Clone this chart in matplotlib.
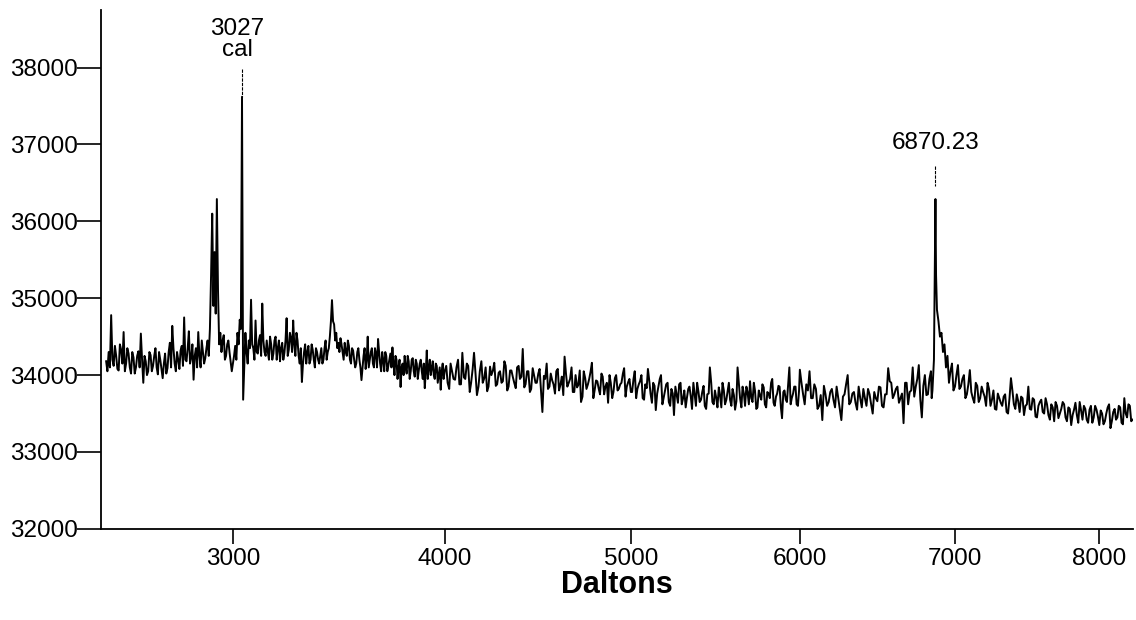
import numpy as np
import matplotlib
matplotlib.use("Agg")
import matplotlib.pyplot as plt

# spectrum: mass (Da) and signal
mass = [
    2470, 2480, 2490, 2500, 2510, 2520, 2530, 2540, 2550, 2560,
    2570, 2580, 2590, 2600, 2610, 2620, 2630, 2640, 2650, 2660,
    2670, 2680, 2690, 2700, 2710, 2720, 2730, 2740, 2750, 2760,
    2770, 2780, 2790, 2800, 2810, 2820, 2830, 2840, 2850, 2860,
    2870, 2880, 2890, 2900, 2905, 2910, 2915, 2920, 2925, 2930,
    2935, 2940, 2950, 2960, 2970, 2980, 2990, 3000, 3010, 3020,
    3030, 3035, 3040, 3045, 3050, 3060, 3070, 3080, 3090, 3100,
    3110, 3120, 3130, 3140, 3150, 3160, 3170, 3180, 3190, 3200,
    3210, 3220, 3230, 3240, 3250, 3260, 3270, 3280, 3290, 3300,
    3310, 3320, 3330, 3340, 3350, 3360, 3370, 3380, 3390, 3400,
    3410, 3420, 3430, 3440, 3450, 3460, 3470, 3480, 3490, 3500,
    3510, 3520, 3530, 3540, 3550, 3560, 3570, 3580, 3590, 3600,
    3610, 3620, 3630, 3640, 3650, 3660, 3670, 3680, 3690, 3700,
    3710, 3720, 3730, 3740, 3750, 3760, 3770, 3780, 3790, 3800,
    3810, 3820, 3830, 3840, 3850, 3860, 3870, 3880, 3890, 3900,
    3910, 3920, 3930, 3940, 3950, 3960, 3970, 3980, 3990,
    4000, 4015, 4030, 4045, 4060, 4075, 4090, 4105, 4120, 4135,
    4150, 4165, 4180, 4195, 4210, 4225, 4240, 4255, 4270, 4285,
    4300, 4315, 4330, 4345, 4360, 4375, 4390, 4405, 4420, 4435,
    4450, 4465, 4480, 4495, 4510, 4525, 4540, 4555, 4570, 4585,
    4600, 4615, 4630, 4645, 4660, 4675, 4690, 4705, 4720, 4735,
    4750, 4765, 4780, 4795, 4810, 4825, 4840, 4855, 4870, 4885,
    4900, 4915, 4930, 4945, 4960, 4975, 4990, 5005, 5020, 5035,
    5050, 5065, 5080, 5095, 5110, 5125, 5140, 5155, 5170, 5185,
    5200, 5215, 5230, 5245, 5260, 5275, 5290, 5305, 5320, 5335,
    5350, 5365, 5380, 5395, 5410, 5425, 5440, 5455, 5470, 5485,
    5500, 5515, 5530, 5545, 5560, 5575, 5590, 5605, 5620, 5635,
    5650, 5665, 5680, 5695, 5710, 5725, 5740, 5755, 5770, 5785,
    5800, 5815, 5830, 5845, 5860, 5875, 5890, 5905, 5920, 5935,
    5950, 5965, 5980, 5995,
    6000, 6020, 6040, 6060, 6080, 6100, 6120, 6140, 6160, 6180,
    6200, 6220, 6240, 6260, 6280, 6300, 6320, 6340, 6360, 6380,
    6400, 6420, 6440, 6460, 6480, 6500, 6520, 6540, 6560, 6580,
    6600, 6620, 6640, 6660, 6680, 6700, 6720, 6740, 6760, 6780,
    6800, 6820, 6840, 6850, 6860, 6866, 6870, 6874, 6880, 6890,
    6900, 6910, 6920, 6930, 6940, 6950, 6960, 6980, 7000, 7020,
    7040, 7060, 7080, 7100, 7120, 7140, 7160, 7180, 7200, 7220,
    7240, 7260, 7280, 7300, 7320, 7340, 7360, 7380, 7400, 7420,
    7440, 7460, 7480, 7500, 7520, 7540, 7560, 7580, 7600, 7620,
    7640, 7660, 7680, 7700, 7720, 7740, 7760, 7780, 7800, 7820,
    7840, 7860, 7880, 7900, 7920, 7940, 7960, 7980, 8000, 8020,
    8040, 8060, 8080, 8100, 8120, 8140, 8160, 8180, 8200, 8220,
    8240,
]

signal = [
    34180, 34300, 34780, 34120, 34250, 34060, 34330, 34560, 34150, 34280,
    34020, 34230, 34100, 34310, 34540, 33900, 34180, 34050, 34260, 34120,
    34350, 34010, 34200, 33960, 34280, 34090, 34420, 34640, 34150, 34300,
    34080, 34380, 34750, 34180, 34570, 34230, 33940, 34350, 34560, 34100,
    34300, 34220, 34450, 34600, 35300, 36100, 34900, 35600, 34800, 36290,
    35100, 34400, 34300, 34520, 34250, 34450, 34180, 34150, 34380, 34550,
    34720, 34600, 37620, 33680, 34100, 34300, 34450, 34980, 34350, 34710,
    34280, 34520, 34930, 34300, 34450, 34200, 34400, 34280, 34500, 34350,
    34180, 34420, 34290, 34740, 34330, 34480, 34710, 34250, 34450, 34150,
    33910, 34300, 34150, 34380, 34200, 34330, 34100, 34300, 34150, 34350,
    34200, 34450, 34300, 34500, 34975, 34660, 34550, 34420, 34480, 34300,
    34420, 34250, 34380, 34150, 34320, 34100, 34300, 34200, 33935, 34250,
    34080, 34500, 34200, 34350, 34100, 34280, 34470, 34150, 34300, 34050,
    34250, 34120, 34280, 34360, 34000, 34200, 34100, 33845, 34150, 34250,
    34020, 34180, 34050, 34220, 33980, 34150, 34060, 34200, 33950, 33830,
    34320, 34100, 34000, 34180, 33950, 34120, 34000, 33810, 34150,
    34050, 33900, 34150, 33950, 34100, 33880, 34290, 33950, 34120, 33900,
    34290, 33740, 34050, 33900, 34100, 33850, 34000, 34160, 33880, 34050,
    33920, 34120, 33850, 34060, 33900, 34100, 33950, 34340, 33880, 34050,
    33820, 34000, 33900, 34080, 33520, 33950, 33820, 34020, 33880, 34050,
    33800, 33980, 34240, 33850, 33950, 33780, 34000, 33870, 33650, 34050,
    33820, 33950, 34160, 33800, 33920, 33750, 33980, 33850, 33640, 33900,
    33780, 34000, 33820, 33900, 34090, 33850, 33950, 33780, 34050, 33820,
    33920, 33700, 33880, 34080, 33760, 33900, 33545, 33850, 34000, 33700,
    33880, 33650, 33820, 33480, 33750, 33880, 33620, 33800, 33700, 33850,
    33560, 33760, 33900, 33650, 33780, 33600, 33750, 34100, 33650, 33800,
    33580, 33750, 33900, 33620, 33780, 33680, 33820, 33550, 34100, 33700,
    33850, 33600, 33780, 33920, 33650, 33800, 33580, 33740, 33880, 33620,
    33780, 33700, 33950, 33600, 33760, 33850, 33440, 33800, 33650, 34100,
    33700, 33850, 33620, 33800,
    34070, 33750, 33880, 34050, 33700, 33820, 33600, 33415, 33750, 33650,
    33820, 33580, 33700, 33415, 33750, 34000, 33650, 33780, 33550, 33700,
    33820, 33600, 33750, 33500, 33700, 33850, 33600, 33750, 34090, 33900,
    33750, 33850, 33700, 33375, 33900, 33780, 34100, 33850, 34130, 33450,
    34000, 33750, 34050, 33800, 34200, 35500, 36290, 35300, 34850, 34700,
    34500, 34550, 34300, 34400, 34100, 34250, 33900, 34150, 33850, 34130,
    33850, 34000, 33750, 34065, 33700, 33900, 33650, 33850, 33720, 33900,
    33600, 33800, 33550, 33700, 33600, 33750, 33500, 33960, 33620, 33750,
    33520, 33700, 33600, 33850, 33550, 33680, 33450, 33650, 33520, 33700,
    33480, 33620, 33400, 33600, 33500, 33650, 33450, 33580, 33350, 33550,
    33480, 33650, 33420, 33560, 33380, 33600, 33450, 33550, 33350, 33500,
    33400, 33580, 33310, 33520, 33420, 33600, 33380, 33700, 33450, 33600,
    33420,
]

# in-between readings (mass, signal) where the trace is densest
mid_low = [
    (2475, 34050), (2485, 34100), (2495, 34200), (2505, 34380), (2515, 34080),
    (2525, 34400), (2535, 34150), (2545, 34050), (2555, 34350), (2565, 34100),
    (2575, 34300), (2585, 34020), (2595, 34250), (2605, 34100), (2615, 34200),
    (2625, 34250), (2635, 34000), (2645, 34300), (2655, 34050), (2665, 34250),
    (2675, 34100), (2685, 34300), (2695, 34080), (2705, 34150), (2715, 34020),
    (2725, 34300), (2735, 34100), (2745, 34350), (2755, 34050), (2765, 34200),
    (2775, 34320), (2785, 34120), (2795, 34200), (2805, 34350), (2815, 34150),
    (2825, 34400), (2835, 34250), (2845, 34100), (2855, 34250), (2865, 34450),
    (2875, 34150), (2885, 34350), (2895, 34250),
    (2945, 34550), (2955, 34450), (2965, 34200), (2975, 34400), (2985, 34300),
    (2995, 34050), (3005, 34250), (3015, 34200), (3025, 34400),
    (3055, 34550), (3065, 34150), (3075, 34350), (3085, 34400), (3095, 34200),
    (3105, 34300), (3115, 34450), (3125, 34250), (3135, 34450), (3145, 34250),
    (3155, 34300), (3165, 34500), (3175, 34200), (3185, 34450), (3195, 34200),
    (3205, 34450), (3215, 34350), (3225, 34200), (3235, 34450), (3245, 34250),
    (3255, 34550), (3265, 34300), (3275, 34400), (3285, 34550), (3295, 34250),
    (3305, 34350), (3315, 34150), (3325, 34400), (3335, 34300), (3345, 34150),
    (3355, 34400), (3365, 34200), (3375, 34350), (3385, 34200), (3395, 34250),
    (3405, 34150), (3415, 34350), (3425, 34200), (3435, 34350), (3445, 34700),
    (3455, 34700), (3465, 34450), (3475, 34350), (3485, 34300), (3495, 34400),
    (3505, 34200), (3515, 34300), (3525, 34450), (3535, 34200), (3545, 34350),
    (3555, 34200), (3565, 34150), (3575, 34350), (3585, 34100), (3595, 34100),
    (3605, 34350), (3615, 34200), (3625, 34100), (3635, 34300), (3645, 34150),
    (3655, 34350), (3665, 34100), (3675, 34300), (3685, 34050), (3695, 34200),
    (3705, 34300), (3715, 34050), (3725, 34200), (3735, 34100), (3745, 34150),
    (3755, 34250), (3765, 33950), (3775, 34200), (3785, 34100), (3795, 34000),
    (3805, 34100), (3815, 34250), (3825, 33950), (3835, 34200), (3845, 34050),
    (3855, 34200), (3865, 33950), (3875, 34150), (3885, 34050), (3895, 34150),
    (3905, 34050), (3915, 33950), (3925, 34200), (3935, 34100), (3945, 34000),
    (3955, 34150), (3965, 33900), (3975, 34100), (3985, 34050), (3995, 33950),
]

mid_centre = [
    (4008, 34120), (4023, 33820), (4038, 34040), (4053, 33940), (4068, 34200),
    (4083, 33880), (4098, 33970), (4113, 34150), (4128, 33780), (4143, 34080),
    (4158, 34010), (4173, 33850), (4188, 34180), (4203, 33960), (4218, 33790),
    (4233, 34110), (4248, 34060), (4263, 33860), (4278, 34030), (4293, 33900),
    (4308, 34180), (4323, 33800), (4338, 34060), (4353, 33970), (4368, 33830),
    (4383, 34120), (4398, 33980), (4413, 33840), (4428, 34050), (4443, 33780),
    (4458, 34090), (4473, 33900), (4488, 34020), (4503, 33770), (4518, 33990),
    (4533, 34150), (4548, 33850), (4563, 33930), (4578, 33760), (4593, 34080),
    (4608, 33880), (4623, 33740), (4638, 34010), (4653, 33900), (4668, 34100),
    (4683, 33780), (4698, 33840), (4713, 34060), (4728, 33720), (4743, 33960),
    (4758, 33880), (4773, 34050), (4788, 33700), (4803, 33930), (4818, 33820),
    (4833, 34020), (4848, 33750), (4863, 33900), (4878, 34000), (4893, 33700),
    (4908, 33960), (4923, 33800), (4938, 33880), (4953, 34020), (4968, 33720),
    (4983, 33910), (4998, 33780), (5013, 33950), (5028, 33700), (5043, 33880),
    (5058, 34000), (5073, 33680), (5088, 33830), (5103, 33920), (5118, 33640),
    (5133, 33860), (5148, 33760), (5163, 33950), (5178, 33620), (5193, 33800),
    (5208, 33900), (5223, 33600), (5238, 33760), (5253, 33850), (5268, 33640),
    (5283, 33900), (5298, 33700), (5313, 33580), (5328, 33820), (5343, 33720),
    (5358, 33900), (5373, 33600), (5388, 33780), (5403, 33680), (5418, 33860),
    (5433, 33560), (5448, 33760), (5463, 33900), (5478, 33620), (5493, 33700),
    (5508, 33840), (5523, 33580), (5538, 33800), (5553, 33680), (5568, 33900),
    (5583, 33600), (5598, 33740), (5613, 33660), (5628, 33880), (5643, 33580),
    (5658, 33760), (5673, 33850), (5688, 33620), (5703, 33700), (5718, 33900),
    (5733, 33560), (5748, 33800), (5763, 33680), (5778, 33840), (5793, 33580),
    (5808, 33760), (5823, 33900), (5838, 33640), (5853, 33720), (5868, 33860),
    (5883, 33580), (5898, 33780), (5913, 33680), (5928, 33880), (5943, 33620),
    (5958, 33760), (5973, 33850), (5988, 33600),
]

mid_high = [
    (6010, 33900), (6030, 33620), (6050, 33800), (6070, 33700), (6090, 33880),
    (6110, 33560), (6130, 33740), (6150, 33860), (6170, 33600), (6190, 33780),
    (6210, 33680), (6230, 33850), (6250, 33560), (6270, 33720), (6290, 33880),
    (6310, 33620), (6330, 33760), (6350, 33640), (6370, 33850), (6390, 33580),
    (6410, 33700), (6430, 33820), (6450, 33620), (6470, 33780), (6490, 33660),
    (6510, 33840), (6530, 33580), (6550, 33750), (6570, 33920), (6590, 33700),
    (6610, 33820), (6630, 33640), (6650, 33760), (6670, 33900), (6690, 33620),
    (6710, 33800), (6730, 33720), (6750, 33950), (6770, 33680), (6790, 33860),
    (6810, 33740), (6830, 33950), (6845, 33700),
    (6970, 34050), (6990, 33800), (7010, 34000), (7030, 33820), (7050, 33950),
    (7070, 33700), (7090, 33880), (7110, 33780), (7130, 33640), (7150, 33860),
    (7170, 33700), (7190, 33780), (7210, 33600), (7230, 33820), (7250, 33680),
    (7270, 33560), (7290, 33760), (7310, 33640), (7330, 33720), (7350, 33520),
    (7370, 33700), (7390, 33800), (7410, 33560), (7430, 33660), (7450, 33720),
    (7470, 33480), (7490, 33620), (7510, 33560), (7530, 33700), (7550, 33460),
    (7570, 33600), (7590, 33680), (7610, 33500), (7630, 33620), (7650, 33420),
    (7670, 33580), (7690, 33650), (7710, 33440), (7730, 33560), (7750, 33620),
    (7770, 33400), (7790, 33560), (7810, 33480), (7830, 33640), (7850, 33380),
    (7870, 33540), (7890, 33600), (7910, 33420), (7930, 33550), (7950, 33380),
    (7970, 33600), (7990, 33460), (8010, 33540), (8030, 33360), (8050, 33500),
    (8070, 33620), (8090, 33400), (8110, 33560), (8130, 33450), (8150, 33580),
    (8170, 33360), (8190, 33500), (8210, 33620), (8230, 33400),
]

# labelled peaks
peak_labels = ["3027\ncal", "6870.23"]
peak_mass = [3040, 6870]
peak_top = [37620, 36290]

# merge everything into one trace ordered by mass
points = sorted(list(zip(mass, signal)) + mid_low + mid_centre + mid_high)
trace_x = [p[0] for p in points]
trace_y = [p[1] for p in points]

plt.rcParams["font.family"] = ["Liberation Sans", "DejaVu Sans"]

fig = plt.figure(figsize=(11.36, 6.2), dpi=100)
ax = fig.add_axes([0.089, 0.147, 0.908, 0.837])

ax.plot(trace_x, trace_y, color="black", linewidth=1.4)

# time-of-flight style axis: mass on a square-root scale
ax.set_xscale("function", functions=(lambda x: np.sqrt(np.clip(x, 0, None)), np.square))
ax.set_xlim(2450, 8240)
ax.set_ylim(32000, 38750)
ax.set_xticks([3000, 4000, 5000, 6000, 7000, 8000])
ax.set_yticks([32000, 33000, 34000, 35000, 36000, 37000, 38000])
ax.minorticks_off()
ax.xaxis.set_major_formatter(matplotlib.ticker.FuncFormatter(lambda v, p: f"{v:.0f}"))

ax.spines["top"].set_visible(False)
ax.spines["right"].set_visible(False)
ax.spines["left"].set_linewidth(1.3)
ax.spines["bottom"].set_linewidth(1.3)
ax.tick_params(axis="y", length=17, width=1.2, pad=0, labelsize=17.5)
ax.tick_params(axis="x", length=11, width=1.2, pad=3, labelsize=17.5)

ax.set_xlabel("Daltons", fontsize=22, fontweight="bold", labelpad=0)

# peak labels with their little marker lines
ax.text(3020, 38080, peak_labels[0], ha="center", va="bottom", fontsize=17.5,
        linespacing=0.95, multialignment="center")
ax.plot([peak_mass[0], peak_mass[0]], [37980, peak_top[0]], color="black", linewidth=0.8,
        linestyle=(0, (3, 1)))
ax.text(6870, 36880, peak_labels[1], ha="center", va="bottom", fontsize=17.5)
ax.plot([peak_mass[1], peak_mass[1]], [36720, 36460], color="black", linewidth=0.8,
        linestyle=(0, (3, 1)))

fig.savefig("out.png", dpi=100)
